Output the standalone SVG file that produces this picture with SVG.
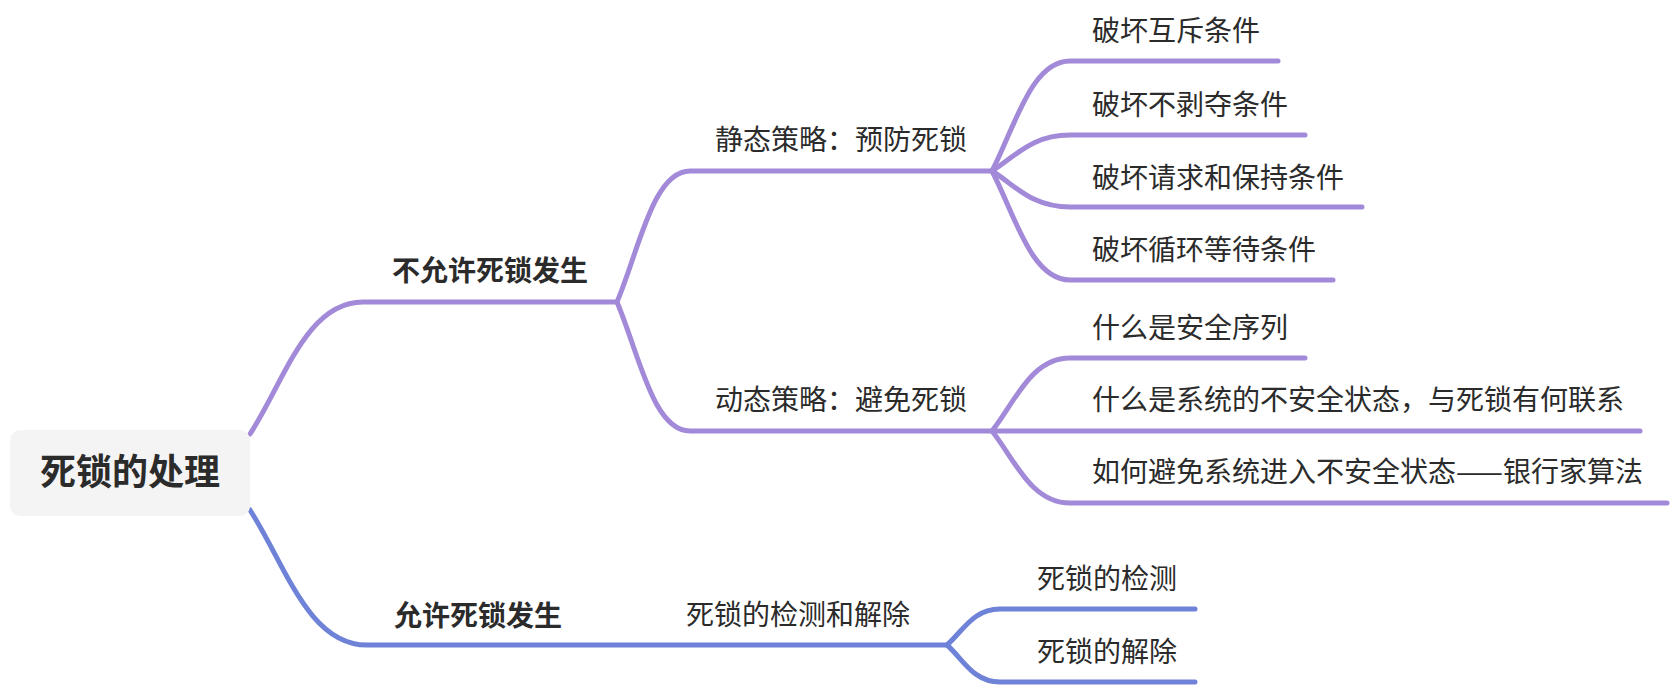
<svg xmlns="http://www.w3.org/2000/svg" width="1676" height="686" viewBox="0 0 1676 686">
<style>
.c{fill:none;stroke-width:5;stroke-linecap:round;stroke-linejoin:round}
.p{stroke:#a28ad9}
.b{stroke:#6e82d8}
text{font-family:"Noto Sans CJK SC","Noto Sans",sans-serif;fill:#2b2b2b}
.t{font-size:28px}
.l1{font-size:28px;font-weight:700}
.root{font-size:36px;font-weight:700}
</style>
<rect width="1676" height="686" fill="#ffffff"/>
<g id="connectors">
<path class="c p" d="M250,434 C284,382 306,302 363,302 L617,302"/>
<path class="c p" d="M617,302 C639,250 653,171 690,171 L992,171"/>
<path class="c p" d="M617,302 C639,354 653,431 690,431 L992,431"/>
<path class="c p" d="M992,171 C1015,127 1031,61 1070,61 L1278,61"/>
<path class="c p" d="M992,171 C1015,157 1031,135 1070,135 L1305,135"/>
<path class="c p" d="M992,171 C1015,185 1031,207 1070,207 L1362,207"/>
<path class="c p" d="M992,171 C1015,215 1031,280 1070,280 L1333,280"/>
<path class="c p" d="M992,431 C1015,402 1031,358 1070,358 L1305,358"/>
<path class="c p" d="M992,431 L1640,431"/>
<path class="c p" d="M992,431 C1015,460 1031,503 1070,503 L1667,503"/>
<path class="c b" d="M250,510 C285,564 308,645 367,645 L947,645"/>
<path class="c b" d="M947,645 C963,631 973,609 1000,609 L1195,609"/>
<path class="c b" d="M947,645 C963,659 973,682 1000,682 L1195,682"/>
</g>
<g id="root"><rect x="10" y="430" width="240" height="86" rx="10" fill="#f4f4f4"/><text class="root" x="130" y="485" text-anchor="middle">死锁的处理</text></g>
<g id="n-notallow"><text class="l1" x="392" y="281">不允许死锁发生</text></g>
<g id="n-static"><text class="t" x="715" y="150">静态策略：预防死锁</text></g>
<g id="n-dynamic"><text class="t" x="715" y="410">动态策略：避免死锁</text></g>
<g id="n-s1"><text class="t" x="1092" y="41">破坏互斥条件</text></g>
<g id="n-s2"><text class="t" x="1092" y="115">破坏不剥夺条件</text></g>
<g id="n-s3"><text class="t" x="1092" y="188">破坏请求和保持条件</text></g>
<g id="n-s4"><text class="t" x="1092" y="260">破坏循环等待条件</text></g>
<g id="n-d1"><text class="t" x="1092" y="338">什么是安全序列</text></g>
<g id="n-d2"><text class="t" x="1092" y="410">什么是系统的不安全状态，与死锁有何联系</text></g>
<g id="n-d3"><text class="t" x="1092" y="482">如何避免系统进入不安全状态——银行家算法</text></g>
<g id="n-allow"><text class="l1" x="394" y="626">允许死锁发生</text></g>
<g id="n-detect"><text class="t" x="686" y="625">死锁的检测和解除</text></g>
<g id="n-x1"><text class="t" x="1037" y="589">死锁的检测</text></g>
<g id="n-x2"><text class="t" x="1037" y="662">死锁的解除</text></g>
</svg>
